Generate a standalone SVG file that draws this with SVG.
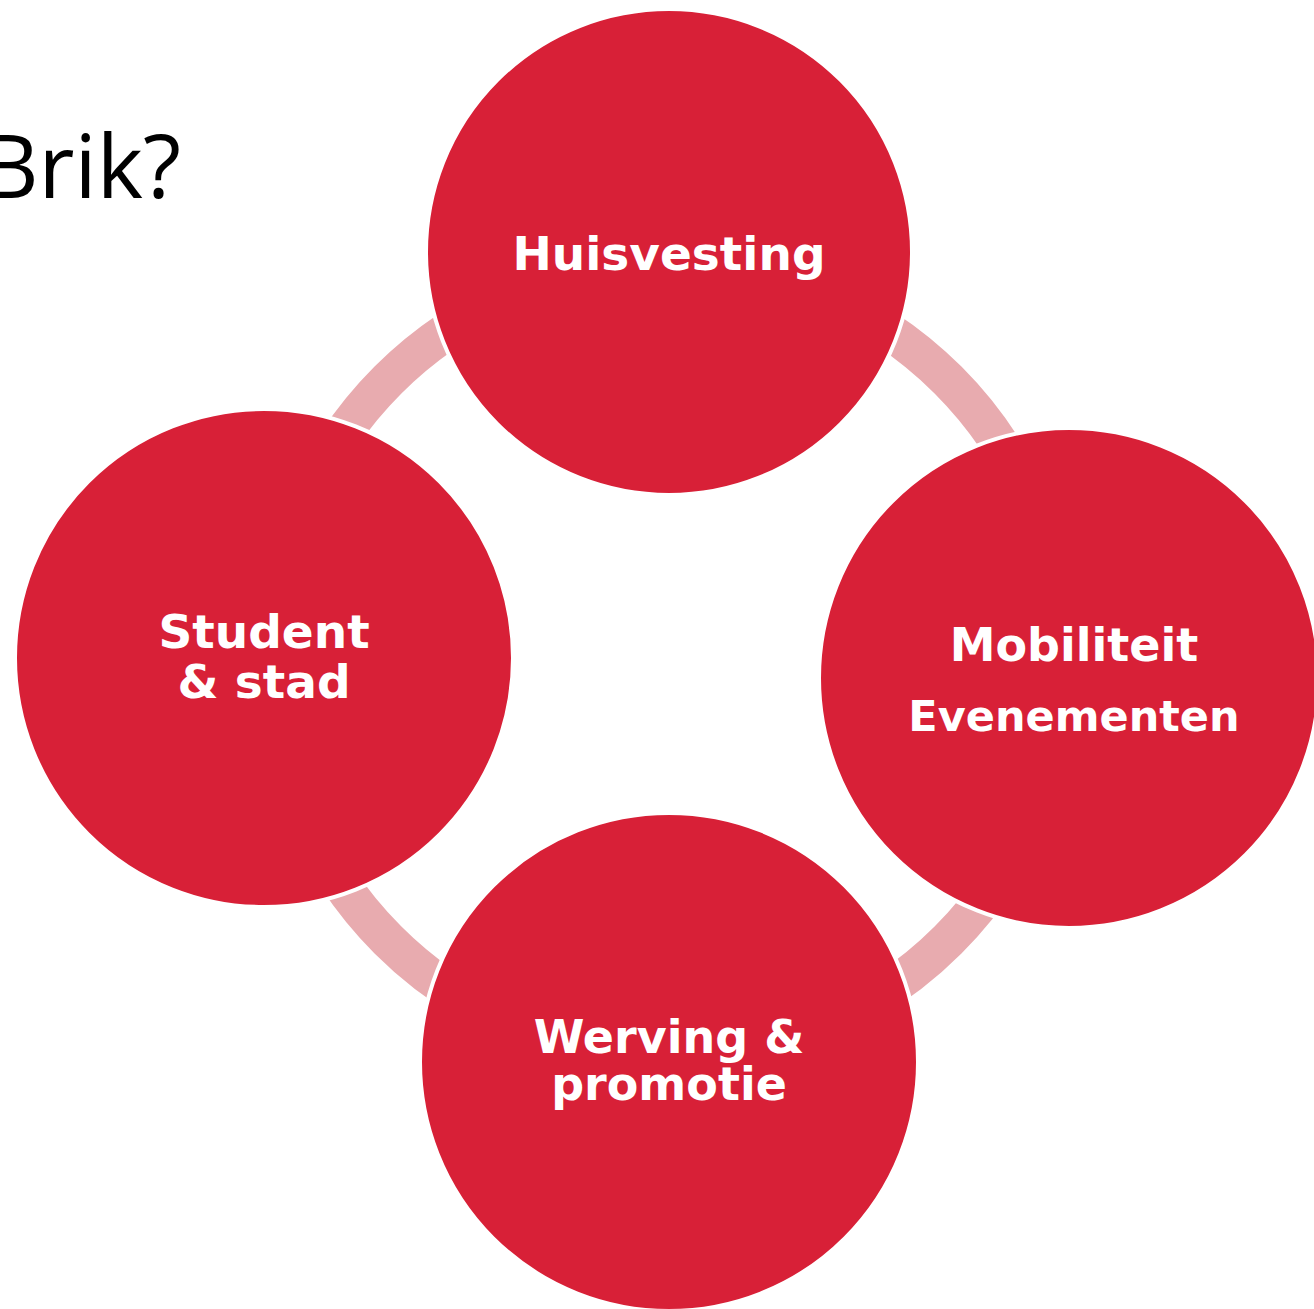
<svg xmlns="http://www.w3.org/2000/svg" width="1314" height="1309" viewBox="0 0 1314 1309">
<style>
.node circle{fill:#D82037;stroke:#FFFFFF;stroke-width:4}
.lbl{font-family:"DejaVu Sans","Liberation Sans",sans-serif;font-weight:bold;fill:#FFFFFF;text-anchor:middle}
.title{font-family:"Open Sans","Noto Sans",sans-serif;fill:#000000;font-size:88px}
</style>
<rect width="1314" height="1309" fill="#FFFFFF"/>
<text class="title" x="181" y="198" text-anchor="end">Brik?</text>
<g id="connectors">
<circle cx="668" cy="660" r="396" fill="none" stroke="#E8ABAF" stroke-width="38"/>
</g>
<g id="node-huisvesting" class="node">
<circle cx="669" cy="252" r="243"/>
<text class="lbl" x="669" y="270" font-size="47">Huisvesting</text>
</g>
<g id="node-mobiliteit" class="node">
<circle cx="1069" cy="678" r="250"/>
<text class="lbl" x="1074" y="661" font-size="46">Mobiliteit</text>
<text class="lbl" x="1074" y="731" font-size="43">Evenementen</text>
</g>
<g id="node-werving" class="node">
<circle cx="669" cy="1062" r="249"/>
<text class="lbl" x="669" y="1053" font-size="46">Werving &amp;</text>
<text class="lbl" x="669" y="1100" font-size="46">promotie</text>
</g>
<g id="node-student" class="node">
<circle cx="264" cy="658" r="249"/>
<text class="lbl" x="264" y="648" font-size="47">Student</text>
<text class="lbl" x="264" y="698" font-size="47">&amp; stad</text>
</g>
</svg>
